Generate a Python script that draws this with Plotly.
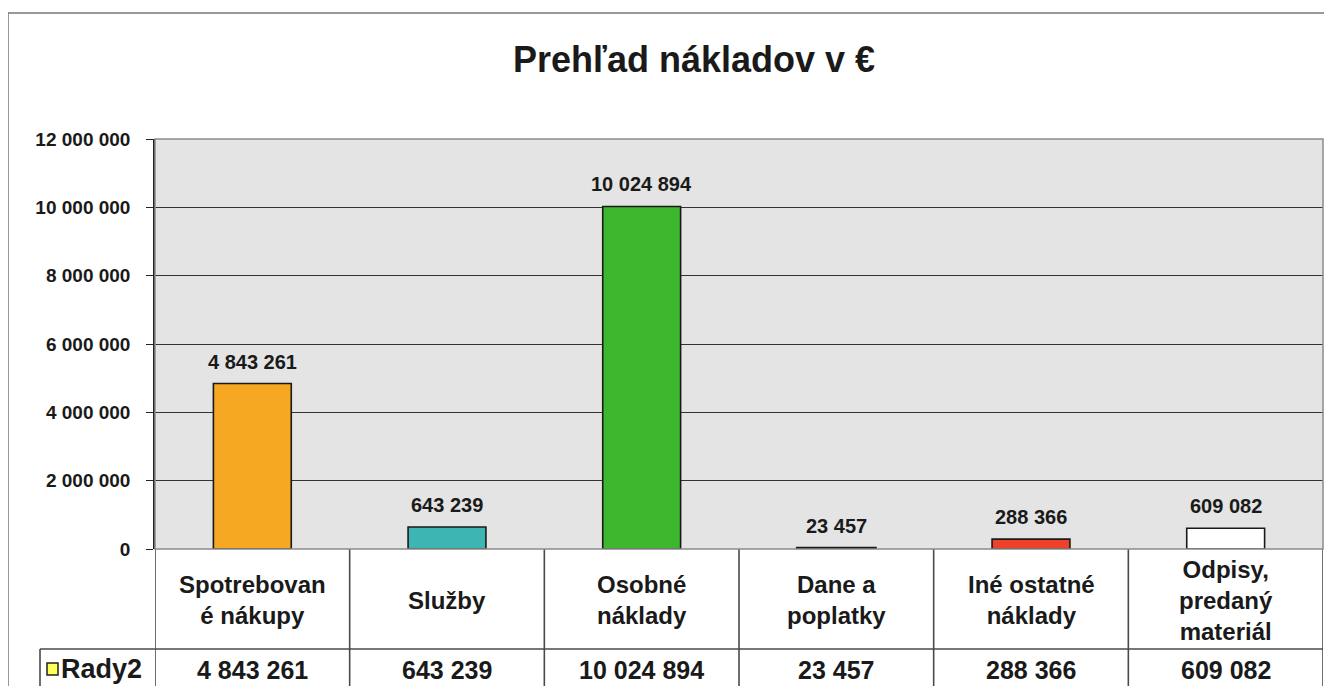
import plotly.graph_objects as go

categories = ["Spotrebované nákupy", "Služby", "Osobné náklady", "Dane a poplatky",
              "Iné ostatné náklady", "Odpisy, predaný materiál"]
header_labels = ["Spotrebovan<br>é nákupy", "Služby", "Osobné<br>náklady", "Dane a<br>poplatky",
                 "Iné ostatné<br>náklady", "Odpisy,<br>predaný<br>materiál"]
values = [4843261, 643239, 10024894, 23457, 288366, 609082]
bar_colors = ["#F6A823", "#3DB5B2", "#3DB82E", "#2A2A2A", "#EE4129", "#FFFFFF"]
series_name = "Rady2"
y_ticks = [0, 2000000, 4000000, 6000000, 8000000, 10000000, 12000000]
title_text = "Prehľad nákladov v €"

def fmt(v):
    return f"{v:,}".replace(",", " ")

FONT = "Arial, 'Liberation Sans', sans-serif"
OFF = 8  # page body margin offset
W, H = 1332, 686
SX0, SX1, SY0, SY1 = 155, 1323, 139, 549
ML = SX0 - OFF
MT = SY0 - OFF
MR = W - (SX1 - OFF)
MB = H - (SY1 - OFF)
PW, PH = SX1 - SX0, SY1 - SY0

def px_x(xs):
    return (xs - SX0) / PW

def px_y(ys):
    return (SY1 - ys) / PH

xs = list(range(len(categories)))

fig = go.Figure()
fig.add_trace(go.Bar(
    x=xs, y=values, width=0.4,
    marker=dict(color=bar_colors, line=dict(color="#1a1a1a", width=[1.6, 1.6, 1.6, 3, 1.6, 1.6])),
    name=series_name, showlegend=False, hoverinfo="x+y",
))

shapes = []
line_col = "#4a4a4a"
row_y = px_y(649)
bot_y = px_y(700)
for i in range(len(categories) + 1):
    shapes.append(dict(type="line", xref="x", yref="paper", x0=i - 0.5, x1=i - 0.5,
                       y0=0, y1=bot_y, line=dict(color=line_col, width=1.6)))
shapes.append(dict(type="line", xref="paper", yref="paper", x0=px_x(40), x1=1,
                   y0=row_y, y1=row_y, line=dict(color=line_col, width=1.6)))
shapes.append(dict(type="line", xref="paper", yref="paper", x0=px_x(40), x1=px_x(40),
                   y0=row_y, y1=bot_y, line=dict(color=line_col, width=1.6)))
shapes.append(dict(type="rect", xref="paper", yref="paper", x0=px_x(47), x1=px_x(58),
                   y0=px_y(675), y1=px_y(663), fillcolor="#FFFF55",
                   line=dict(color="#222", width=1.5)))
shapes.append(dict(type="rect", xref="paper", yref="paper", x0=0, x1=1, y0=0, y1=1,
                   line=dict(color="#8a8a8a", width=1.5)))
shapes.append(dict(type="line", xref="paper", yref="paper", x0=px_x(8), x1=px_x(1345),
                   y0=px_y(13), y1=px_y(13), line=dict(color="#777", width=1.5)))
shapes.append(dict(type="line", xref="paper", yref="paper", x0=px_x(8), x1=px_x(8),
                   y0=px_y(13), y1=px_y(700), line=dict(color="#777", width=1.5)))

annotations = []
for i, v in enumerate(values):
    annotations.append(dict(x=i, y=v, xref="x", yref="y", text="<b>" + fmt(v) + "</b>",
                            showarrow=False, yanchor="bottom", yshift=9,
                            font=dict(family=FONT, size=20, color="#1a1a1a")))
for i, lab in enumerate(header_labels):
    annotations.append(dict(x=i, y=px_y(600), xref="x", yref="paper", text="<b>" + lab + "</b>",
                            showarrow=False, yanchor="middle", align="center",
                            font=dict(family=FONT, size=24, color="#1a1a1a")))
for i, v in enumerate(values):
    annotations.append(dict(x=i, y=px_y(670), xref="x", yref="paper", text="<b>" + fmt(v) + "</b>",
                            showarrow=False, yanchor="middle",
                            font=dict(family=FONT, size=25, color="#1a1a1a")))
annotations.append(dict(x=px_x(59), y=px_y(669), xref="paper", yref="paper",
                        text="<b>" + series_name + "</b>", showarrow=False, xanchor="left",
                        yanchor="middle", font=dict(family=FONT, size=27, color="#1a1a1a")))

fig.update_layout(
    width=W, height=H,
    margin=dict(l=ML, r=MR, t=MT, b=MB, pad=0),
    paper_bgcolor="white", plot_bgcolor="#E4E4E4",
    title=dict(text="<b>" + title_text + "</b>", x=(694 - OFF) / W, xanchor="center",
               y=1 - (59 - OFF) / H, yanchor="middle", yref="container",
               font=dict(family=FONT, size=36, color="#1a1a1a")),
    xaxis=dict(range=[-0.5, len(categories) - 0.5], showticklabels=False, showgrid=False,
               zeroline=False, ticks=""),
    yaxis=dict(range=[0, 12000000], tickvals=y_ticks, ticktext=["<b>" + fmt(t) + "</b>" for t in y_ticks],
               showgrid=True, gridcolor="#333333", gridwidth=1.3, zeroline=False,
               showline=True, linecolor="#222", linewidth=1.5,
               ticks="outside", ticklen=7, tickcolor="#222",
               tickfont=dict(family=FONT, size=19, color="#1a1a1a"),
               ticklabelstandoff=12),
    shapes=shapes, annotations=annotations,
    showlegend=False,
)

fig.write_html("out.html")
